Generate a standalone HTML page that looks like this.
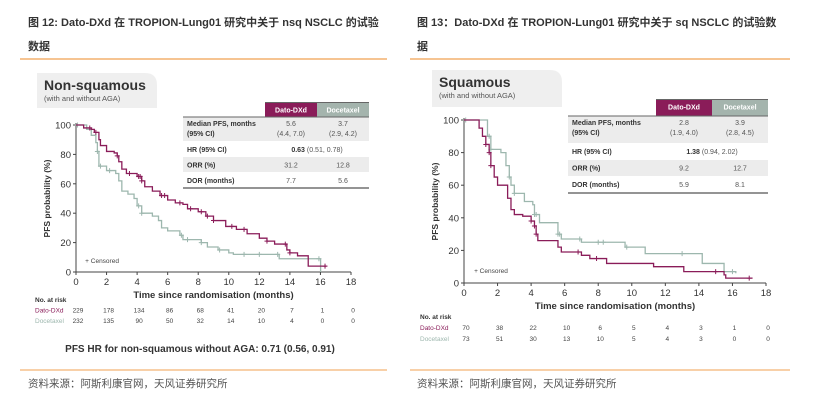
<!DOCTYPE html>
<html><head><meta charset="utf-8"><style>
body{margin:0;background:#fff;}
svg{display:block;font-family:"Liberation Sans","Noto Sans CJK SC",sans-serif;}
</style></head><body>
<svg id="s" width="813" height="408" viewBox="0 0 813 408" xmlns="http://www.w3.org/2000/svg">
<g font-size="11" font-weight="bold" fill="#333">
<text x="28" y="26">图 12: Dato-DXd 在 TROPION-Lung01 研究中关于 nsq NSCLC 的试验</text>
<text x="28" y="50">数据</text>
<line x1="20" y1="59" x2="387" y2="59" stroke="#f0a050" stroke-width="1.2"/>
</g>
<g font-size="11" font-weight="bold" fill="#333">
<text x="417" y="26">图 13：Dato-DXd 在 TROPION-Lung01 研究中关于 sq NSCLC 的试验数</text>
<text x="417" y="50">据</text>
<line x1="410" y1="59" x2="790" y2="59" stroke="#f0a050" stroke-width="1.2"/>
</g>
<g font-size="10.5" fill="#555">
<line x1="20" y1="370" x2="387" y2="370" stroke="#f0a050" stroke-width="1"/>
<line x1="410" y1="370" x2="790" y2="370" stroke="#f0a050" stroke-width="1"/>
<text x="28" y="387">资料来源：阿斯利康官网，天风证券研究所</text>
<text x="417" y="387">资料来源：阿斯利康官网，天风证券研究所</text>
</g>
<text x="200" y="352" text-anchor="middle" font-size="10" font-weight="bold" fill="#333">PFS HR for non-squamous without AGA: 0.71 (0.56, 0.91)</text>
</svg>
<script>
const NS="http://www.w3.org/2000/svg";
const svg=document.getElementById('s');
function mk(tag,attrs,parent,text){const e=document.createElementNS(NS,tag);for(const k in attrs)e.setAttribute(k,attrs[k]);if(text!==undefined)e.textContent=text;(parent||svg).appendChild(e);return e;}

// ---- data ----
const xTicks=[0,2,4,6,8,10,12,14,16,18];
const yTicks=[0,20,40,60,80,100];
const atRiskTimes=[0,2,4,6,8,10,12,14,16,18];
// Non-squamous
const nsqDatoT=[0,0.5,1,1.2,1.5,1.6,2,2.5,2.7,2.8,3,3.3,4,4.3,4.5,5,5.5,6,6.5,7,7.3,8,8.5,9,9.8,10.5,11.2,12,12.5,13,13.8,14,14.5,15.2,16.4];
const nsqDatoS=[100,98,97,95,90,86,82,81,79,75,70,67,65,62,58,55,52,49,47,46,43,41,38,35,31,29,26,23,21,19,15,13,11,4,4];
const nsqDatoC=[0.9,1.3,2.7,3.5,4.1,4.2,4.3,5.6,5.8,6.8,7.5,8.2,8.6,9,10.2,11,12.5,13.7,14,16.3];
const nsqDoceT=[0,0.5,0.7,1,1.3,1.4,1.5,2,2.6,2.8,3,3.4,3.8,4,4.3,5,5.4,5.6,6,6.8,7,8.2,8.6,9.3,10,10.3,13,13.3,15.2,16,16.01];
const nsqDoceS=[100,100,97,93,88,82,72,69,67,62,55,53,50,45,40,38,35,30,28,25,22,20,17,15,13,12,12,9,9,9,0];
const nsqDoceC=[0.1,1.4,1.6,2.2,4.1,4.3,6.9,7.3,8.2,9.4,11,12,13.2,15.9];
const nsqRiskDato=[229,178,134,86,68,41,20,7,1,0];
const nsqRiskDoce=[232,135,90,50,32,14,10,4,0,0];
// Squamous
const sqDatoT=[0,0.7,0.9,1.1,1.3,1.5,1.6,1.8,2,2.6,2.8,3,3.5,4,4.2,4.3,4.4,5.6,5.8,7,7.5,8.5,11.3,13.1,15.5,15.6,17.2];
const sqDatoS=[100,100,95,90,85,80,72,65,60,52,45,42,41,38,35,30,26,22,19,17,15,12,10,7,5,3,3];
const sqDatoC=[1.3,1.5,1.6,4,4.2,4.3,6.8,7.9,15,17];
const sqDoceT=[0,1.3,1.4,1.6,2.2,2.5,2.7,2.8,3,3.6,4.1,4.2,4.5,5.6,5.8,7,9.6,10.8,14.2,15.5,16.2];
const sqDoceS=[100,100,90,82,80,72,65,60,55,50,48,42,37,30,27,25,22,18,12,7,6];
const sqDoceC=[0.1,1.5,1.6,2.7,3,4.2,4.3,5.6,5.7,6.9,8,8.3,9.7,13,16];
const sqRiskDato=[70,38,22,10,6,5,4,3,1,0];
const sqRiskDoce=[73,51,30,13,10,5,4,3,0,0];

const DATO="#8a1c59",DOCE="#9db7ae";

function panel(o){
  const g=mk('g',{});
  
  
  const X=t=>o.x0+(o.x1-o.x0)*t/18, Y=v=>o.y0+(o.y100-o.y0)*v/100;
  const tb=mk('path',{d:`M${o.bx},${o.by} h${o.bw-12} q12,0 12,12 v${o.bh-12} h-${o.bw} z`,fill:'#efefef'},g);
  
  const t1=mk('text',{x:o.bx+7,y:o.by+17,'font-size':14,'font-weight':'bold',fill:'#333'},g,o.title);
  
  const t2=mk('text',{x:o.bx+7,y:o.by+28,'font-size':7.5,fill:'#555'},g,'(with and without AGA)');
  
  const ax=mk('path',{d:`M${o.x0},${Y(100)-2} V${o.y0} H${o.x1}`,stroke:'#444',fill:'none','stroke-width':1},g);
  
  xTicks.forEach(t=>{
    mk('line',{x1:X(t),x2:X(t),y1:o.y0,y2:o.y0+3,stroke:'#444'},g);
    const l=mk('text',{x:X(t),y:o.y0+13,'font-size':9.5,'text-anchor':'middle',fill:'#333'},g,t);
    
  });
  yTicks.forEach(v=>{
    mk('line',{x1:o.x0-3,x2:o.x0,y1:Y(v),y2:Y(v),stroke:'#444'},g);
    const l=mk('text',{x:o.x0-5,y:Y(v)+3.5,'font-size':9.5,'text-anchor':'end',fill:'#333'},g,v);
    
  });
  const xt=mk('text',{x:(X(0)+X(18))/2,y:o.y0+26,'font-size':9.5,'font-weight':'bold','text-anchor':'middle',fill:'#333'},g,'Time since randomisation (months)');
  
  const yc=(Y(0)+Y(100))/2;
  const yt=mk('text',{x:o.x0-26,y:yc,'font-size':8.5,'font-weight':'bold','text-anchor':'middle',fill:'#333',transform:`rotate(-90 ${o.x0-26} ${yc})`},g,'PFS probability (%)');
  
  const cl=mk('text',{x:X(0.6),y:Y(6),'font-size':6.5,fill:'#444'},g,'+ Censored');
  
  function km(T,S,C,col,nm){
    let d=`M${X(T[0])},${Y(S[0])}`;
    for(let i=1;i<T.length;i++){d+=` H${X(T[i])} V${Y(S[i])}`;}
    const p=mk('path',{d,stroke:col,fill:'none','stroke-width':1.3},g);
    
    C.forEach(c=>{
      let s=S[0];for(let i=0;i<T.length;i++){if(T[i]<=c)s=S[i];}
      const m=mk('path',{d:`M${X(c)-2.5},${Y(s)} h5 M${X(c)},${Y(s)-2.5} v5`,stroke:col,'stroke-width':1},g);
      
    });
  }
  km(o.doceT,o.doceS,o.doceC,DOCE,'docetaxel');
  km(o.datoT,o.datoS,o.datoC,DATO,'dato-dxd');
  const tx=o.tx,c1=o.c1,c2=o.c2,c3=o.c3,r=o.rows;
  const h1=mk('rect',{x:c1,y:r[0],width:c2-c1,height:r[1]-r[0],fill:DATO},g);
  
  const h2=mk('rect',{x:c2,y:r[0],width:c3-c2,height:r[1]-r[0],fill:'#a4b4ad'},g);
  
  mk('line',{x1:c1,x2:c3,y1:r[0]+0.5,y2:r[0]+0.5,stroke:'#666','stroke-width':1},g);
  mk('text',{x:(c1+c2)/2,y:r[0]+10.5,'font-size':7,'font-weight':'bold','text-anchor':'middle',fill:'#fff'},g,'Dato-DXd');
  mk('text',{x:(c2+c3)/2,y:r[0]+10.5,'font-size':7,'font-weight':'bold','text-anchor':'middle',fill:'#fff'},g,'Docetaxel');
  [1,3].forEach(i=>mk('rect',{x:tx,y:r[i],width:c3-tx,height:r[i+1]-r[i],fill:'#ececec'},g));
  mk('line',{x1:tx,x2:c3,y1:r[1],y2:r[1],stroke:'#666','stroke-width':1},g);
  mk('line',{x1:tx,x2:c3,y1:r[5],y2:r[5],stroke:'#555','stroke-width':1.2},g);
  const L=(y,s)=>{const e=mk('text',{x:tx+4,y,'font-size':7,'font-weight':'bold',fill:'#333'},g,s);};
  const V=(x,y,s)=>{const e=mk('text',{x,y,'font-size':7,'text-anchor':'middle',fill:'#555'},g,s);};
  const m1=(c1+c2)/2,m2=(c2+c3)/2;
  L(r[1]+9,'Median PFS, months');L(r[1]+19,'(95% CI)');
  V(m1,r[1]+9,o.tab[0]);V(m1,r[1]+19,o.tab[1]);V(m2,r[1]+9,o.tab[2]);V(m2,r[1]+19,o.tab[3]);
  L(r[2]+11,'HR (95% CI)');
  const hr=mk('text',{x:c2,y:r[2]+11,'font-size':7,'text-anchor':'middle',fill:'#555'},g);
  mk('tspan',{'font-weight':'bold',fill:'#333'},hr,o.tab[4]);mk('tspan',{},hr,' '+o.tab[5]);
  
  L(r[3]+10.5,'ORR (%)');V(m1,r[3]+10.5,o.tab[6]);V(m2,r[3]+10.5,o.tab[7]);
  L(r[4]+11,'DOR (months)');V(m1,r[4]+11,o.tab[8]);V(m2,r[4]+11,o.tab[9]);
  const ar=mk('text',{x:o.lx,y:o.ry,'font-size':6.5,'font-weight':'bold',fill:'#333'},g,'No. at risk');
  
  const a1=mk('text',{x:o.lx,y:o.ry+o.rs,'font-size':6.5,fill:DATO},g,'Dato-DXd');
  
  const a2=mk('text',{x:o.lx,y:o.ry+2*o.rs,'font-size':6.5,fill:DOCE},g,'Docetaxel');
  
  atRiskTimes.forEach((t,i)=>{
    const e1=mk('text',{x:X(t)+2,y:o.ry+o.rs,'font-size':6.5,'text-anchor':'middle',fill:'#444'},g,o.riskDato[i]);
    
    const e2=mk('text',{x:X(t)+2,y:o.ry+2*o.rs,'font-size':6.5,'text-anchor':'middle',fill:'#444'},g,o.riskDoce[i]);
    
  });
}
panel({name:'non-squamous-panel',title:'Non-squamous',bx:37,by:73,bw:120,bh:35,
  x0:76,x1:351,y0:272,y100:125,
  datoT:nsqDatoT,datoS:nsqDatoS,datoC:nsqDatoC,doceT:nsqDoceT,doceS:nsqDoceS,doceC:nsqDoceC,
  tx:183,c1:265,c2:317,c3:369,rows:[102,117,141,157,172,188],
  tab:['5.6','(4.4, 7.0)','3.7','(2.9, 4.2)','0.63','(0.51, 0.78)','31.2','12.8','7.7','5.6'],
  lx:35,ry:302,rs:10.5,riskDato:nsqRiskDato,riskDoce:nsqRiskDoce});
panel({name:'squamous-panel',title:'Squamous',bx:432,by:70,bw:130,bh:37,
  x0:464,x1:766,y0:283,y100:120,
  datoT:sqDatoT,datoS:sqDatoS,datoC:sqDatoC,doceT:sqDoceT,doceS:sqDoceS,doceC:sqDoceC,
  tx:568,c1:656,c2:712,c3:768,rows:[99,116,143,160,176,193],
  tab:['2.8','(1.9, 4.0)','3.9','(2.8, 4.5)','1.38','(0.94, 2.02)','9.2','12.7','5.9','8.1'],
  lx:420,ry:319,rs:11,riskDato:sqRiskDato,riskDoce:sqRiskDoce});
</script>
</body></html>
